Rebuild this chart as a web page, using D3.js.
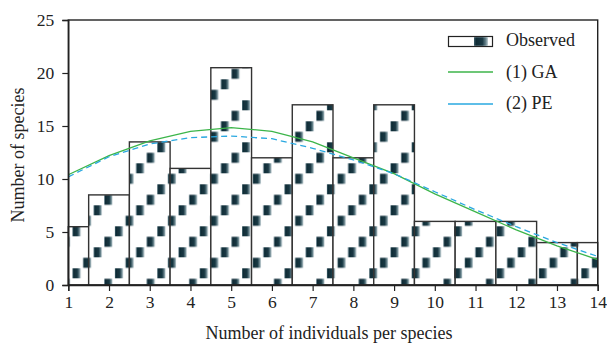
<!DOCTYPE html>
<html>
<head>
<meta charset="utf-8">
<script src="https://cdn.jsdelivr.net/npm/d3@7"></script>
<style>
  body { margin: 0; background: #fff; }
  svg text { font-family: "Liberation Serif", "Times New Roman", serif; fill: #222; }
</style>
</head>
<body>
<svg id="chart" width="607" height="345"></svg>
<script>
// histogram bins (edges) and observed counts
const binEdges = [1, 1.5, 2.5, 3.5, 4.5, 5.5, 6.5, 7.5, 8.5, 9.5, 10.5, 11.5, 12.5, 13.5, 14];
const observed = [5.5, 8.5, 13.5, 11, 20.5, 12, 17, 12, 17, 6, 6, 6, 4, 4];

// fitted curves
const fitX = [1, 2, 3, 4, 5, 6, 7, 8, 9, 10, 11, 12, 13, 14];
const gaFit = [10.4, 12.2, 13.6, 14.5, 14.85, 14.5, 13.5, 12.0, 10.5, 8.6, 6.9, 5.2, 3.7, 2.4];
const peFit = [10.2, 12.1, 13.3, 13.9, 14.05, 13.8, 12.9, 11.8, 10.5, 8.8, 7.1, 5.5, 4.0, 2.7];

const xTicks = [1, 2, 3, 4, 5, 6, 7, 8, 9, 10, 11, 12, 13, 14];
const yTicks = [0, 5, 10, 15, 20, 25];

const legendItems = ['Observed', '(1) GA', '(2) PE'];

const svg = d3.select('#chart');
const x = d3.scaleLinear().domain([1, 14]).range([68.3, 597.7]);
const y = d3.scaleLinear().domain([0, 25]).range([285, 20]);

const gaColor = '#3cb54a';
const peColor = '#29a8e0';

// square texture used in the bars
const defs = svg.append('defs');
const grad = defs.append('linearGradient').attr('id', 'sq');
[[0, '#3f5f6b'], [0.15, '#0f2b35'], [0.6, '#1a3944'], [0.85, '#6a868f'], [1, '#c6d3d7']]
    .forEach(([o, c]) => grad.append('stop').attr('offset', o).attr('stop-color', c));
defs.append('filter').attr('id', 'soft')
    .append('feGaussianBlur').attr('stdDeviation', 0.45);

const stepX = 10.6, stepY = 10.5;
const pat = defs.append('pattern')
    .attr('id', 'dots')
    .attr('patternUnits', 'userSpaceOnUse')
    .attr('x', 8.4).attr('y', 5.3)
    .attr('width', stepX * 4).attr('height', stepY * 4);
pat.append('rect').attr('width', stepX * 4).attr('height', stepY * 4).attr('fill', '#fff');
const pg = pat.append('g').attr('filter', 'url(#soft)');
d3.range(4).forEach(j => {
    pg.append('rect')
        .attr('x', j * stepX + 0.5)
        .attr('y', (3 - j) * stepY + 0.5)
        .attr('width', 8.2).attr('height', 10)
        .attr('fill', 'url(#sq)');
});

// bars
svg.append('g').selectAll('rect')
    .data(observed)
    .enter()
    .append('rect')
    .attr('x', (d, i) => x(binEdges[i]))
    .attr('y', d => y(d))
    .attr('width', (d, i) => x(binEdges[i + 1]) - x(binEdges[i]))
    .attr('height', d => y(0) - y(d))
    .attr('fill', 'url(#dots)')
    .attr('stroke', '#333')
    .attr('stroke-width', 1.4);

// fitted lines
const line = d3.line().x((d, i) => x(fitX[i])).y(d => y(d));
svg.append('path').datum(gaFit)
    .attr('d', line)
    .attr('fill', 'none')
    .attr('stroke', gaColor)
    .attr('stroke-width', 1.3);
svg.append('path').datum(peFit)
    .attr('d', line)
    .attr('fill', 'none')
    .attr('stroke', peColor)
    .attr('stroke-width', 1.3)
    .attr('stroke-dasharray', '6,4');

// frame
svg.append('rect')
    .attr('x', x(1)).attr('y', y(25))
    .attr('width', x(14) - x(1)).attr('height', y(0) - y(25))
    .attr('fill', 'none')
    .attr('stroke', '#222')
    .attr('stroke-width', 1.4);

// axes
const xAxis = svg.append('g')
    .attr('transform', `translate(0,${y(0)})`)
    .call(d3.axisBottom(x).tickValues(xTicks).tickSize(6).tickPadding(5).tickFormat(d3.format('d')));
const yAxis = svg.append('g')
    .attr('transform', `translate(${x(1)},0)`)
    .call(d3.axisLeft(y).tickValues(yTicks).tickSize(6).tickPadding(8));
[xAxis, yAxis].forEach(a => {
    a.select('.domain').attr('stroke', '#222').attr('stroke-width', 1.4);
    a.selectAll('.tick line').attr('stroke', '#222').attr('stroke-width', 1.2);
    a.selectAll('.tick text').attr('font-size', 17.5).style('font-family', '"Liberation Serif", serif').attr('fill', '#222');
});

// axis titles
svg.append('text')
    .attr('x', 329).attr('y', 339)
    .attr('text-anchor', 'middle')
    .attr('font-size', 18)
    .text('Number of individuals per species');
svg.append('text')
    .attr('transform', 'translate(23.5,155) rotate(-90)')
    .attr('text-anchor', 'middle')
    .attr('font-size', 18)
    .text('Number of species');

// legend
const lg = svg.append('g');
lg.append('rect')
    .attr('x', 448.5).attr('y', 36.5).attr('width', 44).attr('height', 10)
    .attr('fill', '#fff').attr('stroke', '#222').attr('stroke-width', 1.2);
lg.append('rect')
    .attr('x', 474).attr('y', 37.2).attr('width', 14).attr('height', 8.6)
    .attr('fill', 'url(#sq)');
lg.append('line')
    .attr('x1', 448).attr('x2', 493).attr('y1', 72).attr('y2', 72)
    .attr('stroke', gaColor).attr('stroke-width', 1.3);
lg.append('line')
    .attr('x1', 448).attr('x2', 493).attr('y1', 104).attr('y2', 104)
    .attr('stroke', peColor).attr('stroke-width', 1.3);
lg.selectAll('text.leg')
    .data(legendItems)
    .enter()
    .append('text')
    .attr('class', 'leg')
    .attr('x', 506)
    .attr('y', (d, i) => 46 + i * 31.5)
    .attr('font-size', 18)
    .text(d => d);
</script>
</body>
</html>
